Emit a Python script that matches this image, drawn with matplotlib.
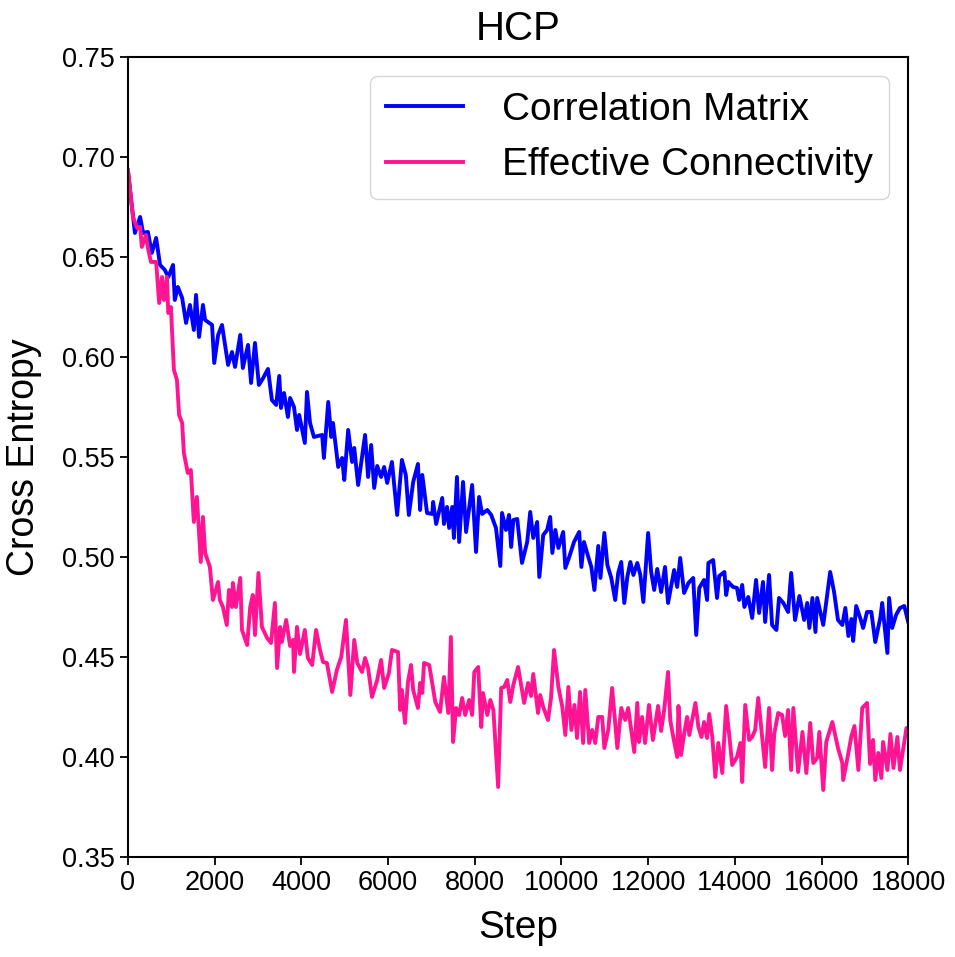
import matplotlib
matplotlib.use('Agg')
import matplotlib.pyplot as plt

plt.rcParams['font.family'] = ['Liberation Sans', 'DejaVu Sans']

# Correlation Matrix curve
cm_steps = [0, 160, 280, 350, 460, 550, 650, 740, 850, 930, 1040, 1080, 1150, 1250, 1340, 1430, 1520,
            1570, 1640, 1730, 1780, 1940, 1990, 2080, 2170, 2310, 2400, 2470, 2590, 2650, 2770, 2840,
            2930, 3020, 3120, 3230, 3320, 3420, 3490, 3530, 3600, 3690, 3740, 3830, 3900, 3950, 4080,
            4130, 4200, 4290, 4480, 4520, 4620, 4690, 4730, 4850, 4940, 4990, 5080, 5170, 5220, 5310,
            5470, 5540, 5610, 5680, 5750, 5840, 5910, 5980, 6090, 6210, 6320, 6410, 6480, 6580, 6690,
            6740, 6790, 6900, 7020, 7040, 7110, 7250, 7290, 7360, 7410, 7480, 7520, 7590, 7640, 7730,
            7800, 7940, 8030, 8100, 8170, 8290, 8380, 8490, 8590, 8630, 8720, 8790, 8840, 8890, 8980,
            9090, 9210, 9280, 9350, 9440, 9490, 9580, 9670, 9740, 9790, 9860, 9930, 10040, 10090,
            10180, 10290, 10410, 10460, 10520, 10620, 10690, 10760, 10850, 10900, 10990, 11060, 11150,
            11240, 11310, 11380, 11450, 11520, 11590, 11660, 11750, 11820, 11890, 12000, 12070, 12140,
            12210, 12300, 12390, 12460, 12600, 12670, 12740, 12830, 12930, 13040, 13110, 13180, 13290,
            13360, 13390, 13500, 13590, 13640, 13760, 13800, 13850, 13960, 14050, 14100, 14170, 14220,
            14310, 14400, 14490, 14560, 14650, 14700, 14790, 14860, 14960, 15020, 15120, 15230, 15300,
            15390, 15490, 15600, 15670, 15720, 15790, 15860, 15900, 16040, 16200, 16290, 16380, 16480,
            16550, 16620, 16690, 16730, 16800, 16900, 16960, 17050, 17150, 17240, 17360, 17400, 17520,
            17560, 17630, 17720, 17810, 17910, 18000]
cm_loss = [0.693, 0.662, 0.670, 0.662, 0.6625, 0.652, 0.6595, 0.646, 0.6435, 0.640, 0.646, 0.6285, 0.635,
           0.6295, 0.617, 0.626, 0.6135, 0.631, 0.610, 0.626, 0.6185, 0.616, 0.597, 0.611, 0.616, 0.596,
           0.6025, 0.595, 0.611, 0.5945, 0.606, 0.587, 0.607, 0.586, 0.5895, 0.594, 0.5785, 0.576, 0.5905,
           0.5745, 0.582, 0.570, 0.5795, 0.575, 0.5635, 0.571, 0.557, 0.5825, 0.567, 0.560, 0.561, 0.5495,
           0.5775, 0.560, 0.567, 0.545, 0.5495, 0.5385, 0.5635, 0.5475, 0.5545, 0.536, 0.561, 0.540, 0.556,
           0.5345, 0.5455, 0.540, 0.545, 0.537, 0.5475, 0.521, 0.5485, 0.541, 0.521, 0.5375, 0.5465, 0.5235,
           0.541, 0.522, 0.5215, 0.5275, 0.5165, 0.5295, 0.5165, 0.525, 0.5145, 0.525, 0.5095, 0.540, 0.5075,
           0.5375, 0.5125, 0.536, 0.5025, 0.530, 0.5215, 0.5235, 0.521, 0.5145, 0.4955, 0.522, 0.5135, 0.521,
           0.505, 0.5185, 0.519, 0.497, 0.5075, 0.5225, 0.5095, 0.5175, 0.490, 0.511, 0.5135, 0.520, 0.502,
           0.5135, 0.5045, 0.5125, 0.4945, 0.500, 0.5075, 0.5125, 0.495, 0.5075, 0.500, 0.495, 0.4835, 0.5055,
           0.4895, 0.512, 0.496, 0.4895, 0.4785, 0.492, 0.4975, 0.477, 0.490, 0.4975, 0.491, 0.497, 0.491,
           0.4775, 0.512, 0.4925, 0.4835, 0.494, 0.4825, 0.495, 0.477, 0.4935, 0.485, 0.4995, 0.482, 0.487,
           0.4895, 0.461, 0.4845, 0.4885, 0.4785, 0.497, 0.4985, 0.4795, 0.4905, 0.4925, 0.481, 0.4875, 0.485,
           0.4845, 0.4785, 0.486, 0.475, 0.480, 0.4695, 0.4885, 0.472, 0.4875, 0.4675, 0.491, 0.466, 0.4635,
           0.4795, 0.477, 0.4725, 0.492, 0.4685, 0.4805, 0.4685, 0.477, 0.4645, 0.4795, 0.4625, 0.4795, 0.466,
           0.4925, 0.4825, 0.4685, 0.466, 0.4745, 0.4605, 0.469, 0.458, 0.4755, 0.469, 0.4645, 0.4725, 0.4725,
           0.4575, 0.470, 0.477, 0.452, 0.4795, 0.4645, 0.471, 0.4745, 0.4755, 0.4675]

# Effective Connectivity curve
ec_steps = [0, 115, 210, 280, 320, 415, 460, 530, 650, 720, 785, 830, 900, 930, 990, 1060, 1130, 1180,
            1250, 1290, 1380, 1450, 1520, 1590, 1680, 1730, 1780, 1890, 1960, 2080, 2120, 2190, 2280,
            2330, 2400, 2420, 2490, 2590, 2630, 2750, 2820, 2880, 2930, 3010, 3090, 3210, 3300, 3390,
            3440, 3510, 3550, 3650, 3740, 3810, 3830, 3900, 3970, 4080, 4150, 4250, 4340, 4430, 4500,
            4590, 4710, 4820, 4920, 5030, 5130, 5220, 5290, 5400, 5470, 5540, 5630, 5750, 5840, 5910,
            6020, 6090, 6230, 6280, 6320, 6390, 6460, 6530, 6580, 6690, 6740, 6790, 6830, 6950, 7090,
            7200, 7290, 7390, 7450, 7500, 7570, 7640, 7710, 7780, 7870, 7940, 7990, 8080, 8150, 8190,
            8290, 8360, 8430, 8540, 8610, 8680, 8750, 8820, 8890, 9000, 9140, 9230, 9300, 9350, 9460,
            9510, 9580, 9690, 9760, 9830, 9930, 10020, 10090, 10160, 10230, 10300, 10360, 10430, 10500,
            10550, 10640, 10710, 10780, 10850, 10940, 10990, 11080, 11170, 11290, 11380, 11470, 11540,
            11680, 11750, 11790, 11860, 11930, 12020, 12110, 12230, 12300, 12370, 12460, 12510, 12580,
            12670, 12700, 12760, 12830, 12900, 12950, 13090, 13160, 13230, 13290, 13360, 13410, 13480,
            13550, 13620, 13710, 13800, 13890, 13940, 14050, 14130, 14170, 14240, 14330, 14400, 14470,
            14540, 14630, 14700, 14790, 14860, 14910, 15000, 15090, 15160, 15230, 15300, 15350, 15460,
            15560, 15650, 15740, 15810, 15900, 15950, 16040, 16110, 16250, 16380, 16480, 16500, 16620,
            16690, 16760, 16850, 16940, 17050, 17120, 17190, 17240, 17310, 17380, 17420, 17520, 17590,
            17660, 17750, 17810, 17960, 18000]
ec_loss = [0.6935, 0.670, 0.6645, 0.665, 0.655, 0.661, 0.6545, 0.6475, 0.6475, 0.627, 0.640, 0.6285, 0.640,
           0.622, 0.625, 0.5935, 0.5885, 0.571, 0.567, 0.552, 0.542, 0.5435, 0.5175, 0.530, 0.4975, 0.520,
           0.502, 0.495, 0.4785, 0.4875, 0.4785, 0.475, 0.466, 0.4835, 0.475, 0.487, 0.475, 0.4895, 0.4635,
           0.456, 0.475, 0.481, 0.461, 0.492, 0.465, 0.4595, 0.457, 0.477, 0.4445, 0.465, 0.4575, 0.4685,
           0.4555, 0.4585, 0.4425, 0.465, 0.4515, 0.4635, 0.4495, 0.446, 0.4635, 0.4535, 0.4475, 0.447,
           0.4325, 0.4435, 0.450, 0.4685, 0.431, 0.4585, 0.447, 0.4425, 0.4495, 0.4445, 0.430, 0.4385,
           0.4485, 0.4345, 0.442, 0.4535, 0.4525, 0.4235, 0.4335, 0.417, 0.4375, 0.446, 0.4335, 0.4245,
           0.437, 0.432, 0.447, 0.446, 0.4275, 0.4225, 0.440, 0.422, 0.460, 0.4075, 0.4245, 0.421, 0.4295,
           0.421, 0.4285, 0.421, 0.4425, 0.445, 0.415, 0.432, 0.421, 0.4285, 0.4235, 0.385, 0.4345, 0.435,
           0.4385, 0.4275, 0.436, 0.445, 0.427, 0.437, 0.4305, 0.4415, 0.422, 0.431, 0.425, 0.4185, 0.4295,
           0.4535, 0.435, 0.425, 0.411, 0.435, 0.4135, 0.426, 0.4095, 0.4325, 0.407, 0.4335, 0.407, 0.4135,
           0.407, 0.420, 0.420, 0.4045, 0.4135, 0.4345, 0.4045, 0.4245, 0.4185, 0.4245, 0.4025, 0.427,
           0.4075, 0.420, 0.407, 0.426, 0.4085, 0.4255, 0.413, 0.4235, 0.4425, 0.4185, 0.410, 0.400, 0.4255,
           0.401, 0.4115, 0.420, 0.411, 0.427, 0.415, 0.410, 0.4175, 0.4095, 0.4215, 0.410, 0.390, 0.407,
           0.392, 0.4255, 0.407, 0.396, 0.400, 0.407, 0.3875, 0.426, 0.4085, 0.410, 0.4135, 0.4295, 0.410,
           0.395, 0.4245, 0.3935, 0.4115, 0.422, 0.421, 0.4105, 0.4235, 0.3935, 0.4245, 0.3925, 0.4125,
           0.392, 0.417, 0.397, 0.3995, 0.4125, 0.3835, 0.4075, 0.4175, 0.4045, 0.397, 0.3885, 0.402,
           0.4105, 0.4155, 0.3935, 0.4245, 0.427, 0.3965, 0.4085, 0.3885, 0.402, 0.3895, 0.4075, 0.3935,
           0.4115, 0.3945, 0.410, 0.3935, 0.4145, 0.413]

fig = plt.figure(figsize=(9.55, 9.57), dpi=100)
ax = fig.add_axes([0.134, 0.1045, 0.817, 0.836])

ax.plot(cm_steps, cm_loss, color='#0000FF', linewidth=2.8, label='Correlation Matrix')
ax.plot(ec_steps, ec_loss, color='#FF1493', linewidth=2.8, label='Effective Connectivity')

ax.set_xlim(0, 18000)
ax.set_ylim(0.35, 0.75)
ax.set_xticks(range(0, 18001, 2000))
ax.set_yticks([0.35, 0.40, 0.45, 0.50, 0.55, 0.60, 0.65, 0.70, 0.75])
ax.set_yticklabels(['%.2f' % v for v in ax.get_yticks()])
ax.tick_params(labelsize=19.5, length=6, width=1.3)
for s in ax.spines.values():
    s.set_linewidth(1.5)

ax.set_title('HCP', fontsize=29, pad=12)
ax.set_xlabel('Step', fontsize=28, labelpad=10)
ax.set_ylabel('Cross Entropy', fontsize=27, labelpad=14)
ax.legend(loc='upper right', fontsize=28, handlelength=2.0, handletextpad=1.0)

fig.savefig('out.png', dpi=100)
